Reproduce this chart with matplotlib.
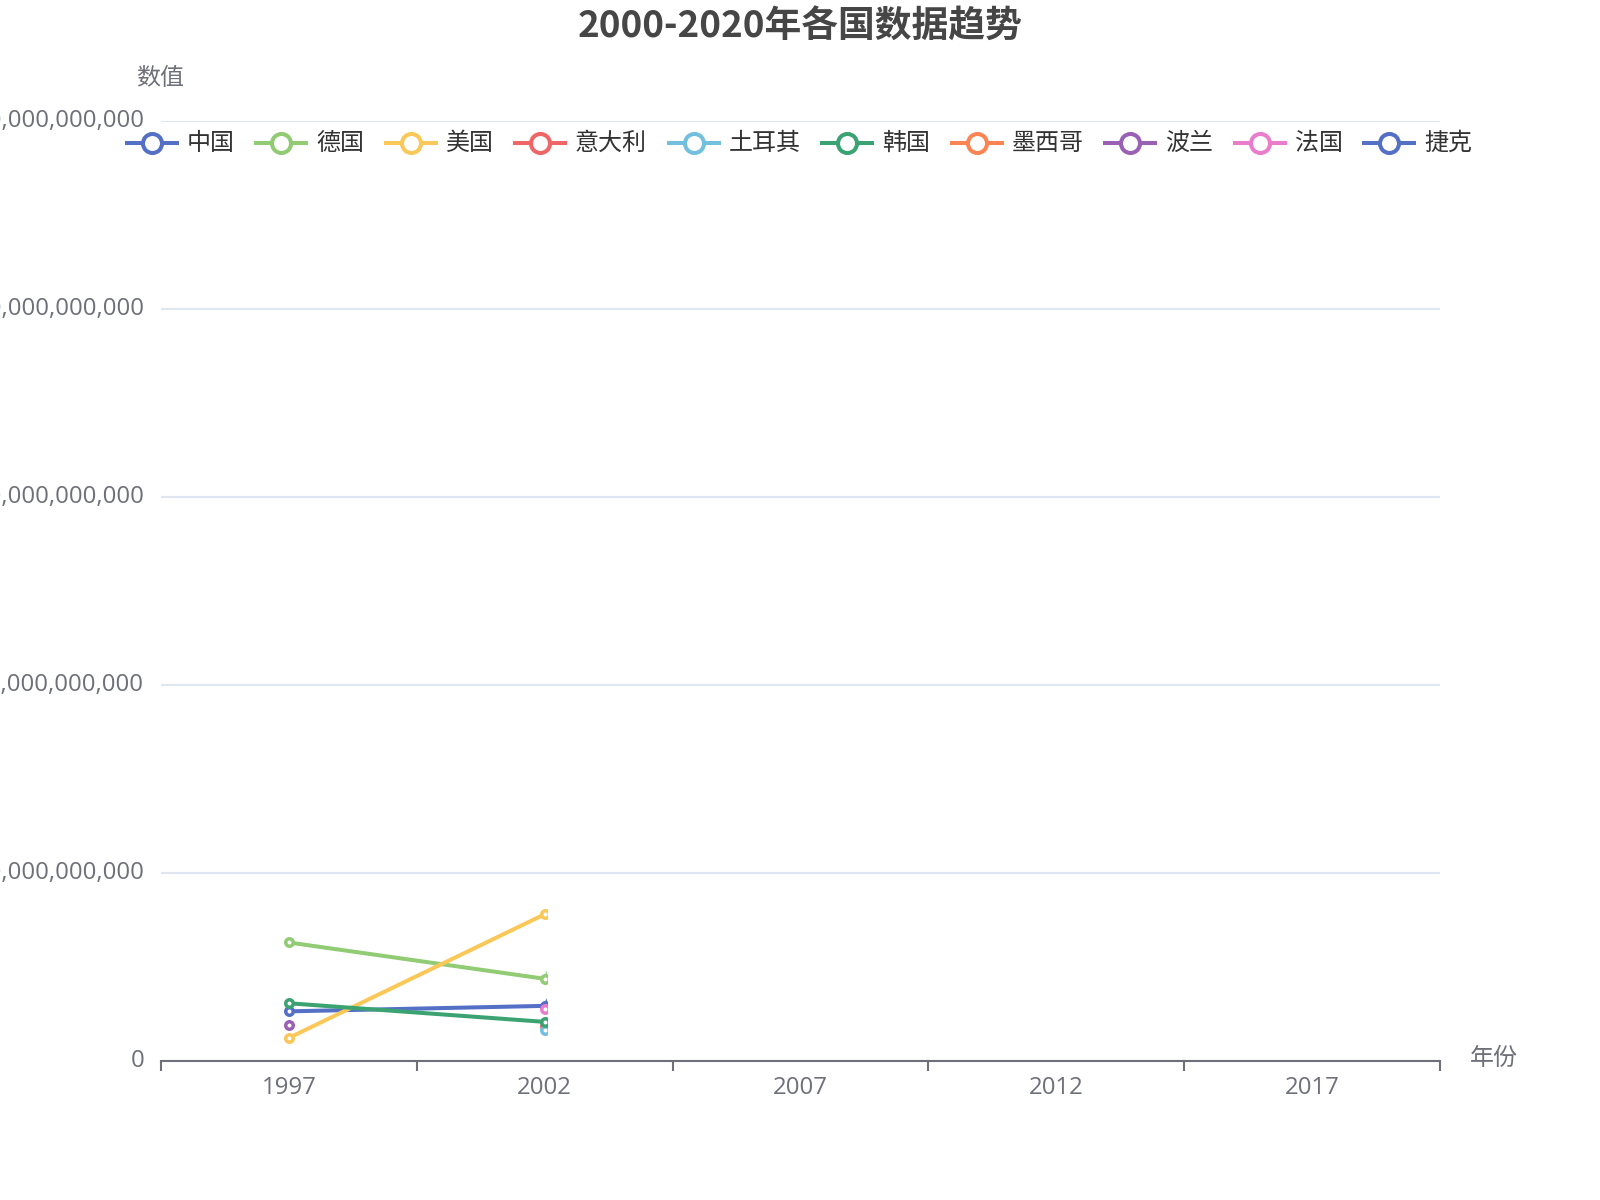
import numpy as np
import matplotlib
matplotlib.use("Agg")
import matplotlib.pyplot as plt
from matplotlib.patches import Rectangle
from matplotlib.lines import Line2D
from matplotlib.ticker import FuncFormatter
from matplotlib.transforms import ScaledTranslation

plt.rcParams['font.family'] = ['Noto Sans CJK SC', 'DejaVu Sans']

# data (values in billions)
years = ["1997", "2002", "2007", "2012", "2017"]
countries = ["中国", "德国", "美国", "意大利", "土耳其", "韩国", "墨西哥", "波兰", "法国", "捷克"]
nan = np.nan
china = [2.64, 2.93, 25.4, nan, nan]
germany = [6.30, 4.37, 28.0, nan, nan]
usa = [1.23, 7.80, 20.0, nan, nan]
italy = [nan, 1.87, nan, nan, nan]
turkey = [nan, 1.66, nan, nan, nan]
korea = [3.07, 2.08, 6.7, nan, nan]
mexico = [nan, nan, nan, nan, nan]
poland = [1.92, nan, nan, nan, nan]
france = [nan, 2.76, nan, nan, nan]
czech = [nan, nan, nan, nan, nan]
series = [china, germany, usa, italy, turkey, korea, mexico, poland, france, czech]
colors = ['#5470c6', '#91cc75', '#fac858', '#ee6666', '#73c0de',
          '#3ba272', '#fc8452', '#9a60b4', '#ea7ccc', '#5470c6']

W, H = 1600, 1200
fig = plt.figure(figsize=(16, 12), dpi=100)
fig.patch.set_facecolor('white')

# plot area in pixels
left, right, top, bottom = 161, 1440, 120.5, 1061
ax = fig.add_axes([left / W, 1 - bottom / H, (right - left) / W, (bottom - top) / H])

x = np.arange(len(years))
# line animation was captured just past 2002
clip = Rectangle((-0.5, -1e11), 1.508, 3e11, transform=ax.transData)
for vals, c in zip(series, colors):
    v = np.array(vals) * 1e9
    line, = ax.plot(x, v, color=c, lw=2.9, marker='o', ms=5.4, mew=2.5,
                    mfc='white', mec=c, zorder=3, solid_capstyle='butt')
    line.set_clip_path(clip)

ax.set_xlim(-0.5, 4.5)
ax.set_ylim(0, 5e10)
ax.set_yticks(np.arange(0, 5.1e10, 1e10))
ax.yaxis.set_major_formatter(FuncFormatter(lambda v, p: "{:,.0f}".format(v)))
ax.set_xticks(x)
ax.set_xticklabels(years)
ax.set_xticks(np.arange(-0.5, 5, 1), minor=True)

for s in ['top', 'right', 'left']:
    ax.spines[s].set_visible(False)
ax.spines['bottom'].set_color('#6E7079')
ax.spines['bottom'].set_linewidth(1.5)
ax.grid(axis='y', color='#E0E6F1', lw=1.5)
ax.set_axisbelow(True)
ax.tick_params(axis='x', which='major', length=0, pad=10.5, labelsize=17.3, labelcolor='#6E7079')
ax.tick_params(axis='x', which='minor', length=7, width=1.5, color='#6E7079')
ax.tick_params(axis='y', length=0, pad=12, labelsize=17.3, labelcolor='#6E7079')
for lab in ax.get_xticklabels() + ax.get_yticklabels():
    lab.set_family(['Open Sans', 'Noto Sans CJK SC'])
shift = ScaledTranslation(0, 3 / 100, fig.dpi_scale_trans)
for lab in ax.get_yticklabels():
    lab.set_transform(lab.get_transform() + shift)

# title and axis names
fig.text(0.5, 1 - 27 / H, "2000-2020年各国数据趋势", ha='center', va='center',
         fontsize=26.5, fontweight='bold', color='#464646')
fig.text(160 / W, 1 - 78 / H, "数值", ha='center', va='center', fontsize=17.3, color='#6E7079')
fig.text(1470 / W, 1 - 1058 / H, "年份", ha='left', va='center', fontsize=17.3, color='#6E7079')

# legend drawn in pixel space
lg = fig.add_axes([0, 0, 1, 1], zorder=5)
lg.set_xlim(0, W)
lg.set_ylim(H, 0)
lg.axis('off')
lg.patch.set_alpha(0)
renderer = fig.canvas.get_renderer()
texts = []
widths = []
for name in countries:
    t = lg.text(0, 0, name, fontsize=17.3, color='#333333', va='center', ha='left')
    widths.append(t.get_window_extent(renderer).width + 1.5)
    texts.append(t)
icon_w, icon_gap, item_gap = 50, 10, 20
total = sum(icon_w + icon_gap + w for w in widths) + item_gap * (len(countries) - 1)
cx = W / 2 - total / 2
ly = 142.5
for name, c, t, w in zip(countries, colors, texts, widths):
    lg.add_line(Line2D([cx, cx + icon_w], [ly, ly], color=c, lw=2.9))
    lg.add_line(Line2D([cx + icon_w / 2], [ly], marker='o', ms=13.7, mew=2.9,
                       mfc='white', mec=c, color=c))
    t.set_position((cx + icon_w + icon_gap, ly))
    cx += icon_w + icon_gap + w + item_gap

fig.savefig("out.png", dpi=100)
